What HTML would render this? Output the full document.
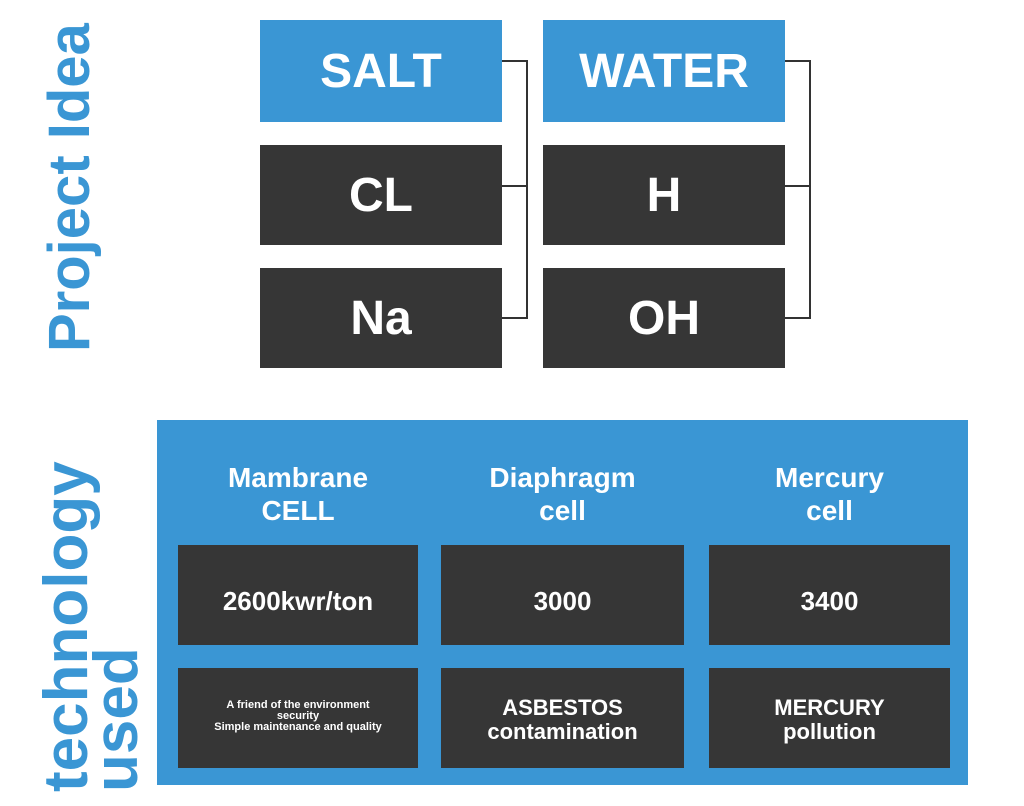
<!DOCTYPE html>
<html><head><style>
body{margin:0;width:1024px;height:806px;background:#fff;position:relative;overflow:hidden;font-family:"Liberation Sans",sans-serif;font-weight:bold}
.b{position:absolute;display:flex;align-items:center;justify-content:center;color:#fff;text-align:center;box-sizing:border-box}
.blue{background:#3a96d4}.dark{background:#363636}
.big{font-size:48px}
.l{position:absolute;background:#333}
.h{font-size:28px;line-height:33px}
.v{position:absolute;color:#3a96d4;transform:rotate(-90deg);transform-origin:left top;white-space:nowrap}
</style></head><body>
<div class="v" style="left:40px;top:352px;font-size:58px;line-height:60px">Project Idea</div>
<div class="v" style="left:42px;top:792px;font-size:62px;line-height:50px">technology<br>used</div>

<div class="b blue big" style="left:260px;top:20px;width:242px;height:102px">SALT</div>
<div class="b blue big" style="left:543px;top:20px;width:242px;height:102px">WATER</div>
<div class="b dark big" style="left:260px;top:145px;width:242px;height:100px">CL</div>
<div class="b dark big" style="left:543px;top:145px;width:242px;height:100px">H</div>
<div class="b dark big" style="left:260px;top:268px;width:242px;height:100px">Na</div>
<div class="b dark big" style="left:543px;top:268px;width:242px;height:100px">OH</div>

<div class="l" style="left:502px;top:60px;width:25px;height:2px"></div>
<div class="l" style="left:526px;top:60px;width:2px;height:259px"></div>
<div class="l" style="left:502px;top:185px;width:25px;height:2px"></div>
<div class="l" style="left:502px;top:317px;width:25px;height:2px"></div>
<div class="l" style="left:785px;top:60px;width:25px;height:2px"></div>
<div class="l" style="left:809px;top:60px;width:2px;height:259px"></div>
<div class="l" style="left:785px;top:185px;width:25px;height:2px"></div>
<div class="l" style="left:785px;top:317px;width:25px;height:2px"></div>

<div style="position:absolute;left:157px;top:420px;width:811px;height:365px;background:#3a96d4"></div>
<div class="b h" style="left:178px;top:460px;width:240px;height:68px">Mambrane<br>CELL</div>
<div class="b h" style="left:441px;top:460px;width:243px;height:68px">Diaphragm<br>cell</div>
<div class="b h" style="left:709px;top:460px;width:241px;height:68px">Mercury<br>cell</div>
<div class="b dark" style="left:178px;top:545px;width:240px;height:100px;font-size:26px;padding-top:12px">2600kwr/ton</div>
<div class="b dark" style="left:441px;top:545px;width:243px;height:100px;font-size:26px;padding-top:12px">3000</div>
<div class="b dark" style="left:709px;top:545px;width:241px;height:100px;font-size:26px;padding-top:12px">3400</div>
<div class="b dark" style="left:178px;top:668px;width:240px;height:100px;font-size:11px;line-height:11px;padding-bottom:4px">A friend of the environment<br>security<br>Simple maintenance and quality</div>
<div class="b dark" style="left:441px;top:668px;width:243px;height:100px;font-size:22px;line-height:24px;padding-top:4px">ASBESTOS<br>contamination</div>
<div class="b dark" style="left:709px;top:668px;width:241px;height:100px;font-size:22px;line-height:24px;padding-top:4px">MERCURY<br>pollution</div>
</body></html>
